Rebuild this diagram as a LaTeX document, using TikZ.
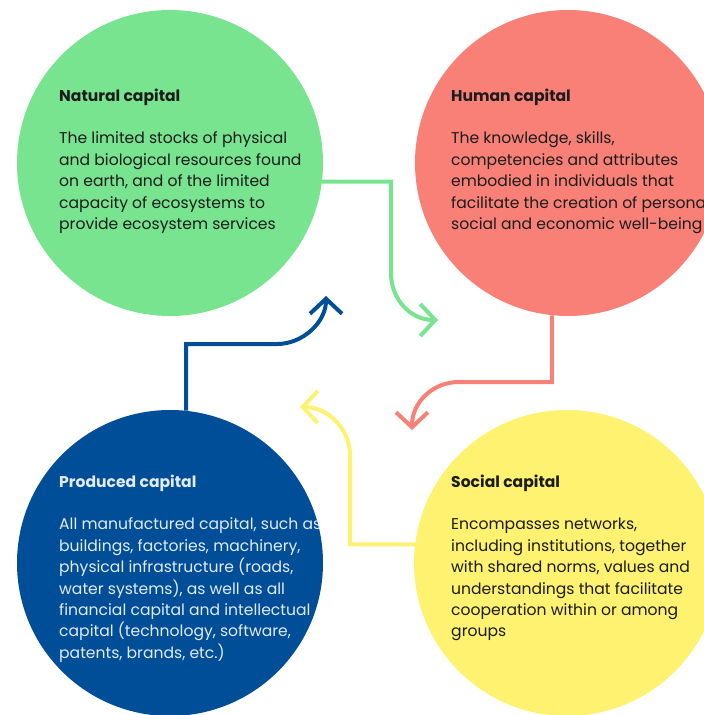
\documentclass[tikz,border=0pt]{standalone}
\usepackage{fontspec}
\setmainfont{Poppins}
\usetikzlibrary{arrows.meta,calc}

\definecolor{natgreen}{HTML}{78E48F}
\definecolor{humanred}{HTML}{F88076}
\definecolor{prodblue}{HTML}{004E98}
\definecolor{socyellow}{HTML}{FEF270}
\definecolor{inkdark}{HTML}{1C1C1C}
\definecolor{inklight}{HTML}{E2EAF3}

\newcommand{\capitalblurb}[2]{\parbox[t]{330pt}{\raggedright\fontsize{15.6}{21.4}\selectfont
		\textbf{#1}\\[21.4pt]#2}}

\begin{document}
\begin{tikzpicture}
	[x=1pt,y=-1pt,
	capital/.style={shape=circle,minimum size=306pt,inner sep=0pt},
	blurb/.style={anchor=base west,inner sep=0pt,text=inkdark},
	link/.style={line width=4pt,-{Straight Barb[length=15pt,width=32pt]}}]
	\useasboundingbox (0,0) rectangle (704,715);
	\clip (0,0) rectangle (704,715);
	
	\node[capital,fill=natgreen] (natural) at (170,163) {};
	\node[capital,fill=humanred] (human) at (568,163) {};
	\node[capital,fill=prodblue] (produced) at (170,563) {};
	\node[capital,fill=socyellow] (social) at (567,563) {};
	
	\node[blurb] (naturaltext) at (59,101) {\capitalblurb{Natural capital}{The limited stocks of physical\\
			and biological resources found\\ on earth, and of the limited\\
			capacity of ecosystems to\\ provide ecosystem services}};
	\node[blurb] (humantext) at (451,101) {\capitalblurb{Human capital}{The knowledge, skills,\\
			competencies and attributes\\ embodied in individuals that\\
			facilitate the creation of personal,\\ social and economic well-being}};
	\node[blurb,text=inklight] (producedtext) at (59,487) {\capitalblurb{Produced capital}{All manufactured capital, such as\\
			buildings, factories, machinery,\\ physical infrastructure (roads,\\
			water systems), as well as all\\ financial capital and intellectual\\
			capital (technology, software,\\ patents, brands, etc.)}};
	\node[blurb] (socialtext) at (451,487) {\capitalblurb{Social capital}{Encompasses networks,\\
			including institutions, together\\ with shared norms, values and\\
			understandings that facilitate\\ cooperation within or among\\ groups}};
	
	% arrow tips
	\coordinate (tipgreen) at (438,320);
	\coordinate (tipred) at (412,430);
	\coordinate (tipyellow) at (300,407);
	\coordinate (tipblue) at (326,296);
	
	\draw[link,natgreen] (natural.-7) -| (391,273)
		.. controls (391,300) and (411,320) .. (tipgreen);
	\draw[link,humanred] (human.-96) |- (459,382)
		.. controls (433,382) and (412,402) .. (tipred);
	\draw[link,socyellow] (social.173) -| (350,455)
		.. controls (350,429) and (328,407) .. (tipyellow);
	\draw[link,prodblue] (produced.84) |- (277,344)
		.. controls (303,344) and (326,322) .. (tipblue);
\end{tikzpicture}
\end{document}
